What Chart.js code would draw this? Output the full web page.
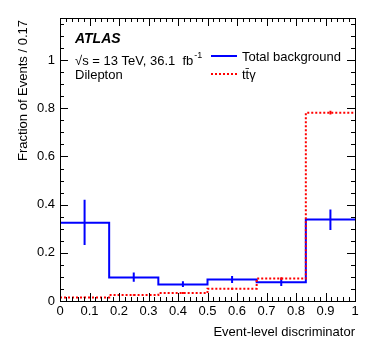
<!DOCTYPE html>
<html>
<head>
<meta charset="utf-8">
<script src="https://cdn.jsdelivr.net/npm/chart.js@4/dist/chart.umd.min.js"></script>
<style>
  html, body { margin:0; padding:0; background:#fff; }
  #wrap { width:374px; height:359px; position:relative; }
</style>
</head>
<body>
<div id="wrap"><canvas id="c"></canvas></div>
<script>
// bin edges of the discriminator (6 bins, width 1/6)
const binEdges = [0, 1/6, 2/6, 3/6, 4/6, 5/6, 1];
// total background fractions and their errors (lo / hi)
const bkgValues = [0.325, 0.098, 0.069, 0.089, 0.078, 0.338];
const bkgErrLo  = [0.232, 0.080, 0.058, 0.075, 0.062, 0.295];
const bkgErrHi  = [0.420, 0.118, 0.082, 0.104, 0.094, 0.380];
// ttgamma signal fractions
const sigValues = [0.015, 0.025, 0.033, 0.051, 0.093, 0.782];
const sigErr    = [0.003, 0.003, 0.004, 0.004, 0.006, 0.008];
const xTicks = [0, 0.1, 0.2, 0.3, 0.4, 0.5, 0.6, 0.7, 0.8, 0.9, 1];
const yTicks = [0, 0.2, 0.4, 0.6, 0.8, 1];

const FONT = '"Liberation Sans", Arial, sans-serif';

function stepPoints(vals){
  const pts = vals.map((v,i)=>({x: binEdges[i], y: v}));
  pts.push({x: binEdges[binEdges.length-1], y: vals[vals.length-1]});
  return pts;
}
function errPoints(lo, hi){
  const pts = [];
  lo.forEach((l,i)=>{
    const c = (binEdges[i]+binEdges[i+1])/2;
    pts.push({x:c, y:l}, {x:c, y:hi[i]}, {x:c, y:null});
  });
  return pts;
}

// ROOT-like frame with inner ticks on all four sides, plus the texts
const framePlugin = {
  id: 'frame',
  afterDraw(chart){
    const {ctx, chartArea:a, scales:{x, y}} = chart;
    ctx.save();
    ctx.strokeStyle = '#000';
    ctx.lineWidth = 1;
    ctx.strokeRect(a.left+0.5, a.top+0.5, a.right-a.left, a.bottom-a.top);
    ctx.beginPath();
    for(let v=0; v<=1.0001; v+=0.02){
      const px = Math.round(x.getPixelForValue(v))+0.5;
      const major = Math.abs(v*10 - Math.round(v*10)) < 1e-6;
      const len = major ? 8 : 4;
      ctx.moveTo(px, a.bottom); ctx.lineTo(px, a.bottom-len);
      ctx.moveTo(px, a.top); ctx.lineTo(px, a.top+len);
    }
    for(let v=0; v<=y.max+1e-6; v+=0.05){
      const py = Math.round(y.getPixelForValue(v))+0.5;
      const major = Math.abs(v*5 - Math.round(v*5)) < 1e-6;
      const len = major ? 8 : 4;
      ctx.moveTo(a.left, py); ctx.lineTo(a.left+len, py);
      ctx.moveTo(a.right, py); ctx.lineTo(a.right-len, py);
    }
    ctx.stroke();

    ctx.fillStyle = '#000';
    // axis titles
    ctx.font = '13px ' + FONT;
    ctx.textAlign = 'right';
    ctx.textBaseline = 'alphabetic';
    ctx.fillText('Event-level discriminator', a.right, 336);
    ctx.save();
    ctx.translate(27, a.top+2);
    ctx.rotate(-Math.PI/2);
    ctx.fillText('Fraction of Events / 0.17', 0, 0);
    ctx.restore();

    // labels
    ctx.textAlign = 'left';
    ctx.font = 'bold italic 14px ' + FONT;
    ctx.fillText('ATLAS', 75, 43);
    ctx.font = '13px ' + FONT;
    ctx.fillText('\u221As = 13 TeV, 36.1  fb', 75, 65);
    const w = ctx.measureText('\u221As = 13 TeV, 36.1  fb').width;
    ctx.font = '9px ' + FONT;
    ctx.fillText('-1', 75+w+1, 58);
    ctx.font = '13px ' + FONT;
    ctx.fillText('Dilepton', 75, 79);

    // legend
    ctx.lineWidth = 2;
    ctx.strokeStyle = '#0000ff';
    ctx.beginPath(); ctx.moveTo(211, 56); ctx.lineTo(237, 56); ctx.stroke();
    ctx.strokeStyle = '#ff0000';
    ctx.setLineDash([2,2]);
    ctx.beginPath(); ctx.moveTo(211, 74); ctx.lineTo(237, 74); ctx.stroke();
    ctx.setLineDash([]);
    ctx.fillText('Total background', 242, 61);
    ctx.fillText('tt\u0304\u03B3', 242, 79);
    ctx.restore();
  }
};

new Chart(document.getElementById('c'), {
  type: 'line',
  data: {
    datasets: [
      { data: stepPoints(sigValues), stepped: 'before', borderColor: '#ff0000', borderWidth: 2, borderDash: [2,2], pointRadius: 0, fill: false },
      { data: errPoints(sigValues.map((v,i)=>v-sigErr[i]), sigValues.map((v,i)=>v+sigErr[i])), borderColor: '#ff0000', borderWidth: 2, pointRadius: 0, spanGaps: false },
      { data: stepPoints(bkgValues), stepped: 'before', borderColor: '#0000ff', borderWidth: 2, pointRadius: 0, fill: false },
      { data: errPoints(bkgErrLo, bkgErrHi), borderColor: '#0000ff', borderWidth: 2, pointRadius: 0, spanGaps: false }
    ]
  },
  options: {
    responsive: true,
    maintainAspectRatio: false,
    animation: false,
    layout: { padding: { top: 18, right: 19, left: 0, bottom: 0 } },
    plugins: { legend: { display: false }, tooltip: { enabled: false } },
    scales: {
      x: {
        type: 'linear', min: 0, max: 1,
        afterBuildTicks: s => { s.ticks = xTicks.map(v=>({value:v})); },
        afterFit: s => { s.height = 58; },
        grid: { display: false, drawTicks: false },
        border: { display: false },
        ticks: { color: '#000', font: { size: 13, family: FONT }, padding: 3, maxRotation: 0,
                 callback: v => String(Math.round(v*10)/10) }
      },
      y: {
        type: 'linear', min: 0, max: 1.175,
        afterBuildTicks: s => { s.ticks = yTicks.map(v=>({value:v})); },
        afterFit: s => { s.width = 60; },
        grid: { display: false, drawTicks: false },
        border: { display: false },
        ticks: { color: '#000', font: { size: 13, family: FONT }, padding: 5,
                 callback: v => String(Math.round(v*10)/10) }
      }
    }
  },
  plugins: [framePlugin]
});
</script>
</body>
</html>
